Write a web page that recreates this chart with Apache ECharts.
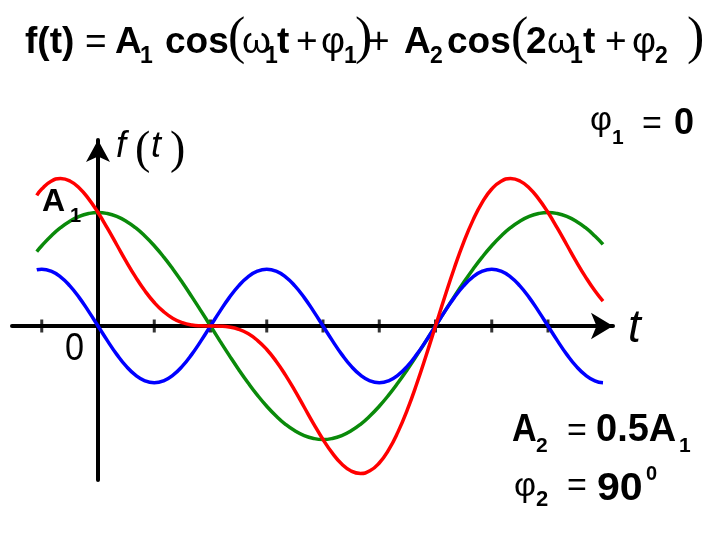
<!DOCTYPE html>
<html><head><meta charset="utf-8">
<script src="https://cdn.jsdelivr.net/npm/echarts@6/dist/echarts.min.js"></script>
<style>html,body{margin:0;padding:0;background:#fff}#c{width:720px;height:540px}</style>
</head><body><div id="c"></div>
<script>
// sample angles (ωt in degrees)
var angles = [-49,-45,-37.5,-30,-22.5,-15,-7.5,0,7.5,15,22.5,30,37.5,45,52.5,60,67.5,75,82.5,90,97.5,105,112.5,120,127.5,135,142.5,150,157.5,165,172.5,180,187.5,195,202.5,210,217.5,225,232.5,240,247.5,255,262.5,270,277.5,285,292.5,300,307.5,315,322.5,330,337.5,345,352.5,360,367.5,375,382.5,390,397.5,404];
// first harmonic (green), in units of A1
var green = [0.656,0.707,0.793,0.866,0.924,0.966,0.991,1,0.991,0.966,0.924,0.866,0.793,0.707,0.609,0.5,0.383,0.259,0.131,0,-0.131,-0.259,-0.383,-0.5,-0.609,-0.707,-0.793,-0.866,-0.924,-0.966,-0.991,-1,-0.991,-0.966,-0.924,-0.866,-0.793,-0.707,-0.609,-0.5,-0.383,-0.259,-0.131,0,0.131,0.259,0.383,0.5,0.609,0.707,0.793,0.866,0.924,0.966,0.991,1,0.991,0.966,0.924,0.866,0.793,0.719];
// second harmonic (blue)
var blue = [0.495,0.5,0.483,0.433,0.354,0.25,0.129,0,-0.129,-0.25,-0.354,-0.433,-0.483,-0.5,-0.483,-0.433,-0.354,-0.25,-0.129,0,0.129,0.25,0.354,0.433,0.483,0.5,0.483,0.433,0.354,0.25,0.129,0,-0.129,-0.25,-0.354,-0.433,-0.483,-0.5,-0.483,-0.433,-0.354,-0.25,-0.129,0,0.129,0.25,0.354,0.433,0.483,0.5,0.483,0.433,0.354,0.25,0.129,0,-0.129,-0.25,-0.354,-0.433,-0.483,-0.5];
// resulting sum (red)
var red = [1.151,1.207,1.276,1.299,1.278,1.216,1.120,1,0.862,0.716,0.570,0.433,0.310,0.207,0.126,0.067,0.029,0.009,0.002,0,-0.002,-0.009,-0.029,-0.067,-0.126,-0.207,-0.310,-0.433,-0.570,-0.716,-0.862,-1,-1.120,-1.216,-1.278,-1.299,-1.276,-1.207,-1.092,-0.933,-0.737,-0.509,-0.260,0,0.260,0.509,0.737,0.933,1.092,1.207,1.276,1.299,1.278,1.216,1.120,1,0.862,0.716,0.570,0.433,0.310,0.219];
// tick marks on the t axis
var ticks = [-45,45,90,135,180,225,270,315,360];

function pairs(v){ return angles.map(function(a,i){ return [a, v[i]]; }); }

var SANS = 'Liberation Sans, Arial, sans-serif';
var SERIF = 'Liberation Serif, Times New Roman, serif';
function T(text, x, y, font, sx){
  return {type:'text', x:x, y:y, scaleX: sx || 1, z:100,
    style:{text:text, x:0, y:0, font:font, fill:'#000', align:'left', verticalAlign:'middle'}};
}
var mainB = 'bold 37px ' + SANS, mainN = '37px ' + SANS, subB = 'bold 23px ' + SANS, paren = '52px ' + SERIF;
var midN = '34px ' + SANS, subS = 'bold 21px ' + SANS;

var graphics = [
  // title formula
  T('f(t)', 25, 43, mainB),
  T('=', 85, 43, mainN),
  T('A', 115, 43, mainB),
  T('1', 140, 57, subB),
  T('cos', 165, 43, mainB),
  T('(', 228, 39, paren),
  T('ω', 242, 43, mainN),
  T('1', 265, 57, subB),
  T('t', 277, 43, mainB),
  T('+', 296, 43, mainN),
  T('φ', 321, 43, mainN),
  T('1', 344, 57, subB),
  T(')', 355, 39, paren),
  T('+', 368, 43, mainN),
  T('A', 404, 43, mainB),
  T('2', 430, 57, subB),
  T('cos', 447, 43, mainB),
  T('(', 511, 39, paren),
  T('2', 526, 43, mainB),
  T('ω', 547, 43, mainN),
  T('1', 570, 57, subB),
  T('t', 583, 43, mainB),
  T('+', 605, 43, mainN),
  T('φ', 632, 43, mainN),
  T('2', 655, 57, subB),
  T(')', 687, 39, paren),
  // axis labels
  T('f', 116, 147, 'italic 36px ' + SANS),
  T('(', 135, 151, '46px ' + SERIF),
  T('t', 151, 147, 'italic 36px ' + SANS),
  T(')', 170, 151, '46px ' + SERIF),
  T('t', 628, 329, 'italic 46px ' + SANS),
  T('0', 65, 350, '38px ' + SANS, 0.9),
  T('A', 42, 202, 'bold 32px ' + SANS),
  T('1', 70, 216, 'bold 20px ' + SANS),
  // parameters
  T('φ', 590, 121, midN),
  T('1', 612, 138, subS),
  T('=', 642, 125, midN),
  T('0', 674, 124, 'bold 36px ' + SANS),
  T('A', 512, 431, 'bold 38px ' + SANS, 0.9),
  T('2', 536, 446, subS),
  T('=', 567, 432, midN),
  T('0.5A', 596, 431, 'bold 38px ' + SANS),
  T('1', 679, 446, subS),
  T('φ', 514, 487, midN),
  T('2', 536, 500, 'bold 22px ' + SANS),
  T('=', 567, 487, midN),
  T('90', 597, 490, 'bold 38px ' + SANS, 1.08),
  T('0', 646, 474, 'bold 20px ' + SANS)
];

var chart = echarts.init(document.getElementById('c'));
chart.setOption({
  animation:false,
  grid:{left:12,right:107,top:140,bottom:60},
  xAxis:{type:'value',min:-68.8,max:412,
    axisLine:{onZero:true,lineStyle:{color:'#000',width:4},symbol:['none','arrow'],symbolSize:[20,22]},
    axisTick:{show:false},axisLabel:{show:false},splitLine:{show:false}},
  yAxis:{type:'value',min:-1.357,max:1.639,
    axisLine:{onZero:true,lineStyle:{color:'#000',width:4},symbol:['none','arrow'],symbolSize:[18,22]},
    axisTick:{show:false},axisLabel:{show:false},splitLine:{show:false}},
  series:[
    {type:'line',data:pairs(green),smooth:true,showSymbol:false,lineStyle:{color:'#0a8a0a',width:3.5},z:3},
    {type:'line',data:pairs(blue),smooth:true,showSymbol:false,lineStyle:{color:'#0000ff',width:3.5},z:4},
    {type:'line',data:pairs(red),smooth:true,showSymbol:false,lineStyle:{color:'#ff0000',width:3.5},z:5},
    {type:'scatter',data:ticks.map(function(t){return [t,0];}),symbol:'rect',symbolSize:[3,13],itemStyle:{color:'#000'},z:2}
  ],
  graphic:graphics
});
</script></body></html>
